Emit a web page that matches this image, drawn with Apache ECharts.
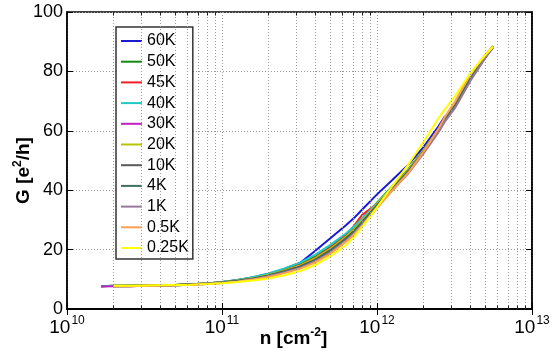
<!DOCTYPE html>
<html><head><meta charset="utf-8">
<script src="https://cdn.jsdelivr.net/npm/echarts@6/dist/echarts.min.js"></script>
<style>html,body{margin:0;padding:0;background:#fff}#c{width:552px;height:351px}</style>
</head><body><div id="c"></div>
<script>
// carrier density n [cm^-2]
const nValues = [1.66e10, 2e10, 2.5e10, 3.2e10, 4e10, 5e10, 6.3e10, 8e10, 1e11, 1.26e11, 1.6e11, 2e11, 2.5e11, 3.2e11, 4e11, 5e11, 6.3e11, 7.1e11, 8e11, 1e12, 1.26e12, 1.6e12, 2e12, 2.5e12, 2.75e12, 3.2e12, 4e12, 5e12, 5.6e12];
const seriesNames = ['60K', '50K', '45K', '40K', '30K', '20K', '10K', '4K', '1K', '0.5K', '0.25K'];
const seriesColors = ['#1a1ad6', '#128a12', '#f02020', '#20c8c8', '#c020c0', '#b8c400', '#595959', '#3f7060', '#95789a', '#ffa050', '#ffff00'];
// conductance G [e^2/h]
const g60K  = [null, 7.8, 7.8, 7.9, 8.0, 8.1, 8.3, 8.6, 9.1, 9.8, 10.7, 11.9, 13.4, 15.6, 19.6, 23.8, 28.2, 30.6, 33.4, 38.6, 43.5, 48.7, 54.6, 61.6, 65.0, null, null, null, null];
const g50K  = [7.7, 7.8, 7.8, 7.9, 8.0, 8.1, 8.3, 8.6, 9.0, 9.7, 10.6, 11.7, 13.1, 15.0, 17.6, 20.9, 24.9, 27.4, 30.3, 35.8, 41.4, 47.2, 53.6, 60.6, 64.2, 68.8, 77.6, 85.2, 88.4];
const g45K  = [7.7, 7.8, 7.8, 7.9, 8.0, 8.1, 8.3, 8.6, 9.0, 9.6, 10.5, 11.6, 13.0, 14.8, 17.3, 20.6, 24.6, 28.0, 31.6, 35.4, 41.0, 46.9, 53.4, 60.5, 64.1, 68.7, 77.5, 85.1, 88.3];
const g40K  = [7.7, 7.8, 7.8, 7.9, 8.0, 8.1, 8.3, 8.6, 9.1, 9.8, 10.8, 12.0, 13.6, 15.6, 18.3, 21.6, 25.4, 27.8, 30.4, 35.6, 41.2, 47.0, 53.4, 60.5, 64.2, 68.8, 77.6, 85.1, 88.4];
const g30K  = [7.6, 7.7, 7.7, 7.8, 7.9, 8.0, 8.2, 8.5, 8.8, 9.3, 10.1, 11.0, 12.3, 14.0, 16.3, 19.4, 23.3, 25.8, 28.7, 34.5, 40.2, 46.2, 52.8, 60.0, 63.6, 68.2, 77.0, 84.6, 88.0];
const g20K  = [null, 7.8, 7.8, 7.9, 8.0, 8.1, 8.3, 8.6, 9.0, 9.6, 10.4, 11.5, 12.9, 14.7, 17.1, 20.3, 24.3, 26.8, 29.7, 35.4, 41.0, 46.9, 53.5, 60.7, 64.3, 68.9, 77.7, 85.3, 88.6];
const g10K  = [null, 7.7, 7.8, 7.9, 8.0, 8.1, 8.3, 8.6, 8.9, 9.5, 10.3, 11.3, 12.6, 14.3, 16.6, 19.8, 23.8, 26.3, 29.2, 35.0, 40.6, 46.6, 53.2, 60.4, 64.0, 68.6, 77.4, 85.0, 88.3];
const g4K   = [null, 7.7, 7.7, 7.8, 7.9, 8.0, 8.2, 8.5, 8.9, 9.4, 10.2, 11.2, 12.5, 14.2, 16.4, 19.5, 23.5, 26.0, 28.9, 34.7, 40.4, 46.3, 53.0, 60.2, 63.8, 68.4, 77.2, 84.8, 88.1];
const g1K   = [null, 7.7, 7.7, 7.8, 7.9, 8.0, 8.2, 8.4, 8.8, 9.3, 10.0, 11.0, 12.2, 13.8, 16.0, 19.0, 23.0, 25.4, 28.4, 34.2, 40.0, 45.8, 52.4, 59.6, 63.2, 67.8, 76.8, 84.6, 88.5];
const g05K  = [null, 7.7, 7.7, 7.8, 7.9, 8.0, 8.1, 8.4, 8.7, 9.2, 9.9, 10.8, 12.0, 13.6, 15.7, 18.6, 22.6, 25.0, 28.0, 34.0, 40.0, 46.0, 53.0, 60.8, 64.8, 70.0, 79.2, 85.6, 88.4];
const g025K = [null, 7.8, 7.8, 7.9, 8.0, 8.1, 8.2, 8.4, 8.7, 9.1, 9.6, 10.3, 11.3, 12.8, 14.8, 17.8, 21.5, 24.2, 27.6, 34.2, 41.5, 48.8, 56.3, 64.3, 67.3, 71.8, 79.4, 85.5, 88.3];
const seriesValues = [g60K, g50K, g45K, g40K, g30K, g20K, g10K, g4K, g1K, g05K, g025K];
const yTicks = [0, 20, 40, 60, 80, 100];
const xRange = [1e10, 1e13];
// minor grid positions (2..9 x each decade)
const minorGrid = [];
for (let d = 1e10; d < 1e13; d *= 10) for (let k = 2; k <= 9; k++) minorGrid.push(k * d);

const FONT = 'Liberation Sans';
const chart = echarts.init(document.getElementById('c'), null, {renderer: 'canvas'});

const dataSeries = seriesNames.map((name, i) => ({
  name, type: 'line', xAxisIndex: 0, yAxisIndex: 0,
  data: nValues.map((n, j) => [n, seriesValues[i][j]]).filter(p => p[1] != null),
  showSymbol: false, symbol: 'none', smooth: false,
  lineStyle: {width: 2, color: seriesColors[i]}, itemStyle: {color: seriesColors[i]},
  z: 3, animation: false
}));

const gridSeries = {
  name: '_grid', type: 'line', xAxisIndex: 0, yAxisIndex: 0, data: [], z: 1, silent: true,
  markLine: {
    silent: true, symbol: 'none', animation: false, label: {show: false},
    lineStyle: {type: [1, 2], color: '#9a9a9a', width: 1},
    data: minorGrid.map(v => ({xAxis: v}))
  }
};
const tickSeries = {
  name: '_ticks', type: 'line', xAxisIndex: 0, yAxisIndex: 0, data: [], z: 2, silent: true,
  markLine: {
    silent: true, symbol: 'none', animation: false, label: {show: false},
    lineStyle: {type: 'solid', color: '#222', width: 1},
    data: minorGrid.map(v => [{coord: [v, 0]}, {coord: [v, 1.2]}]).concat(
          minorGrid.map(v => [{coord: [v, 100]}, {coord: [v, 98.8]}]))
  }
};

const xLabel = v => {
  const e = Math.round(Math.log10(v));
  return '{b|10}{s|' + e + '}';
};

const titleRich = {
  t: {fontFamily: FONT, fontSize: 19, fontWeight: 'bold', color: '#000', lineHeight: 22, verticalAlign: 'bottom'},
  s: {fontFamily: FONT, fontSize: 12, fontWeight: 'bold', color: '#000', lineHeight: 22, verticalAlign: 'bottom', padding: [0, 0, 9, 0]}
};

chart.setOption({
  backgroundColor: '#fff',
  animation: false,
  textStyle: {fontFamily: FONT},
  grid: {left: 67, right: 20, top: 12, bottom: 42, show: true, borderColor: '#000', borderWidth: 1.5, backgroundColor: '#fff',
         containLabel: false, outerBoundsMode: 'none'},
  legend: {
    data: seriesNames, orient: 'vertical', left: 116, top: 27,
    padding: [6, 4, 3, 5], itemWidth: 21, itemHeight: 2, itemGap: 4.7, icon: 'rect',
    backgroundColor: '#fff', borderColor: '#333', borderWidth: 1.5, borderRadius: 0,
    textStyle: {fontFamily: FONT, fontSize: 16, color: '#000', lineHeight: 16},
    selectedMode: false
  },
  xAxis: [{
    type: 'log', logBase: 10, min: xRange[0], max: xRange[1], position: 'bottom',
    axisLine: {show: true, lineStyle: {color: '#000', width: 1.5}},
    axisTick: {show: true, inside: true, length: 6, lineStyle: {color: '#000'}},
    minorTick: {show: false},
    splitLine: {show: true, lineStyle: {type: [1, 2], color: '#9a9a9a', width: 1}},
    axisLabel: {
      margin: 4, formatter: xLabel, color: '#000',
      rich: {
        b: {fontFamily: FONT, fontSize: 19, color: '#000', lineHeight: 24, verticalAlign: 'bottom'},
        s: {fontFamily: FONT, fontSize: 12, color: '#000', lineHeight: 24, verticalAlign: 'bottom', padding: [0, 0, 10, 1]}
      }
    },
    name: '{t|n [cm}{s|-2}{t|]}', nameLocation: 'middle', nameGap: 17, nameMoveOverlap: false,
    nameTextStyle: {padding: [0, 12, 0, 0], rich: titleRich}
  }, {
    type: 'log', logBase: 10, min: xRange[0], max: xRange[1], position: 'top',
    axisLine: {show: true, lineStyle: {color: '#000', width: 1.5}},
    axisTick: {show: true, inside: true, length: 6, lineStyle: {color: '#000'}},
    axisLabel: {show: false}, splitLine: {show: false}
  }],
  yAxis: [{
    type: 'value', min: yTicks[0], max: yTicks[yTicks.length - 1], interval: 20, position: 'left',
    axisLine: {show: true, lineStyle: {color: '#000', width: 1.5}},
    axisTick: {show: true, inside: true, length: 6, lineStyle: {color: '#000'}},
    splitLine: {show: true, lineStyle: {type: [1, 2], color: '#9a9a9a', width: 1}},
    axisLabel: {margin: 4, fontFamily: FONT, fontSize: 18, color: '#000'},
    name: '{t|G [e}{s|2}{t|/h]}', nameLocation: 'middle', nameGap: 34, nameRotate: 90, nameMoveOverlap: false,
    nameTextStyle: {padding: [0, 20, 0, 0], rich: titleRich}
  }, {
    type: 'value', min: yTicks[0], max: yTicks[yTicks.length - 1], interval: 20, position: 'right',
    axisLine: {show: true, lineStyle: {color: '#000', width: 1.5}},
    axisTick: {show: true, inside: true, length: 6, lineStyle: {color: '#000'}},
    axisLabel: {show: false}, splitLine: {show: false}
  }],
  series: [gridSeries, tickSeries].concat(dataSeries)
});
</script>
</body></html>
